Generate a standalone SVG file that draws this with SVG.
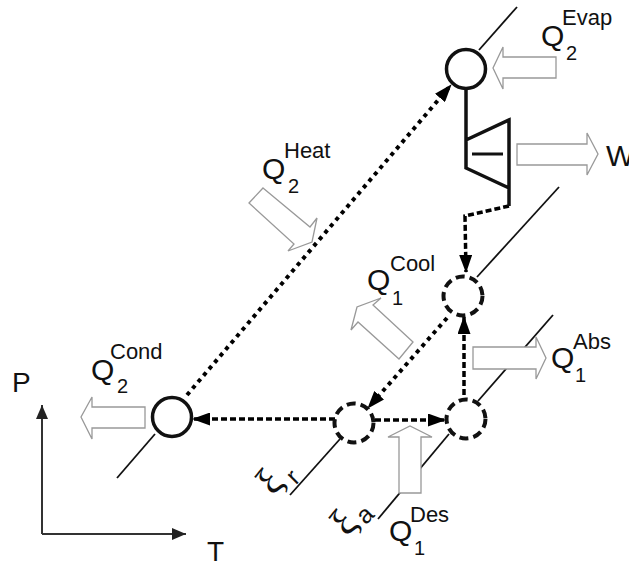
<svg xmlns="http://www.w3.org/2000/svg" width="629" height="563" viewBox="0 0 629 563">
<defs>
<marker id="ah" viewBox="0 0 18 13" refX="17" refY="6.5" markerUnits="userSpaceOnUse" markerWidth="18" markerHeight="13" orient="auto"><path d="M0 0L18 6.5L0 13Z" fill="#000"/></marker>
<marker id="ax" viewBox="0 0 14 12" refX="14" refY="6" markerUnits="userSpaceOnUse" markerWidth="14" markerHeight="12" orient="auto"><path d="M0 0L14 6L0 12Z" fill="#222"/></marker>
</defs>
<style>
text{font-family:"Liberation Sans",Arial,sans-serif;fill:#111}
.q{font-size:30px}.s{font-size:22px}.u{font-size:20px}.b{font-size:28px}
.g{font-family:"Liberation Serif",serif;font-size:40px}
.iso{stroke:#111;stroke-width:1.8;fill:none}
.flow{stroke:#000;stroke-width:3.5;fill:none;stroke-dasharray:6 3}
.dot{stroke:#000;stroke-width:4;fill:none;stroke-dasharray:4 4.5}
.ns{fill:#fff;stroke:#111;stroke-width:3.5}
.nd{fill:#fff;stroke:#111;stroke-width:4;stroke-dasharray:9 5}
.ar{fill:#fff;stroke:#999;stroke-width:1.3}
.ax{stroke:#333;stroke-width:2;fill:none;marker-end:url(#ax)}
.tb{fill:none;stroke:#111;stroke-width:3.5}
</style>
<g id="isosteres">
<path class="iso" d="M479 50L517 7"/>
<path class="iso" d="M559 187L477 277"/>
<path class="iso" d="M553 315L478 401"/>
<path class="iso" d="M449 434L378 519"/>
<path class="iso" d="M340 439L290 495"/>
<path class="iso" d="M155 434L117 478"/>
</g>
<g id="connectors">
<path class="dot" marker-end="url(#ah)" d="M187 395L451 85"/>
<path class="flow" marker-end="url(#ah)" d="M335 419L193 419"/>
<path class="flow" marker-end="url(#ah)" d="M375 420L445 420"/>
<path class="flow" marker-end="url(#ah)" d="M464 395L464 317"/>
<path class="dot" marker-end="url(#ah)" d="M447 318L368 408"/>
<path class="flow" marker-end="url(#ah)" d="M509 206L465 216L466 272"/>
</g>
<g id="turbine">
<path class="tb" d="M466 88V168L509 188M466 140L509 120V206"/>
<path d="M472 154H503" stroke="#111" stroke-width="3" fill="none"/>
</g>
<g id="axes">
<path class="ax" d="M42 534V405"/>
<path class="ax" d="M42 534H186"/>
</g>
<g id="node-evap"><circle class="ns" cx="466" cy="69" r="19.5"/></g>
<g id="node-cond"><circle class="ns" cx="172" cy="417" r="19.5"/></g>
<g id="node-cool"><circle class="nd" cx="463" cy="296" r="19.5"/></g>
<g id="node-r"><circle class="nd" cx="354" cy="423" r="19.5"/></g>
<g id="node-abs"><circle class="nd" cx="466" cy="419" r="19.5"/></g>
<g id="heat-arrows">
<path class="ar" d="M556 57H503V47L493 68L503 89V78H556Z"/>
<path class="ar" d="M517 144H587V133L598 154L587 175V165H517Z"/>
<path class="ar" d="M145 407H92V397L81 417L92 439V428H145Z"/>
<path class="ar" d="M473 347H536V337L546 358L536 379V369H473Z"/>
<path class="ar" d="M399 493H421V437H432L410 426L388 437H399Z"/>
<path class="ar" d="M263 188L310 227L317 218L312 242L288 251L294 244L249 203Z"/>
<path class="ar" d="M413 342L373 305L381 298L357 307L351 330L358 322L399 359Z"/>
</g>
<g id="labels">
<text class="q" x="541" y="46">Q</text><text class="s" x="562" y="25">Evap</text><text class="u" x="566" y="60">2</text>
<text class="q" x="262" y="179">Q</text><text class="s" x="284" y="158">Heat</text><text class="u" x="288" y="193">2</text>
<text class="q" x="367" y="290">Q</text><text class="s" x="390" y="271">Cool</text><text class="u" x="392" y="305">1</text>
<text class="q" x="91" y="380">Q</text><text class="s" x="110" y="359">Cond</text><text class="u" x="117" y="393">2</text>
<text class="q" x="551" y="368">Q</text><text class="s" x="573" y="349">Abs</text><text class="u" x="575" y="382">1</text>
<text class="q" x="389" y="541">Q</text><text class="s" x="410" y="522">Des</text><text class="u" x="414" y="555">1</text>
<text class="q" x="606" y="166">W</text>
<text class="b" x="12" y="392">P</text>
<text class="b" x="207" y="561">T</text>
<text class="g" text-anchor="middle" transform="translate(275 486) rotate(-50)" y="6">ξ</text>
<text font-size="25" text-anchor="middle" transform="translate(293 477) rotate(-45)" y="8">r</text>
<text class="g" text-anchor="middle" transform="translate(349 527) rotate(-50)" y="6">ξ</text>
<text font-size="25" text-anchor="middle" transform="translate(365 515) rotate(-45)" y="8">a</text>
</g>
</svg>
